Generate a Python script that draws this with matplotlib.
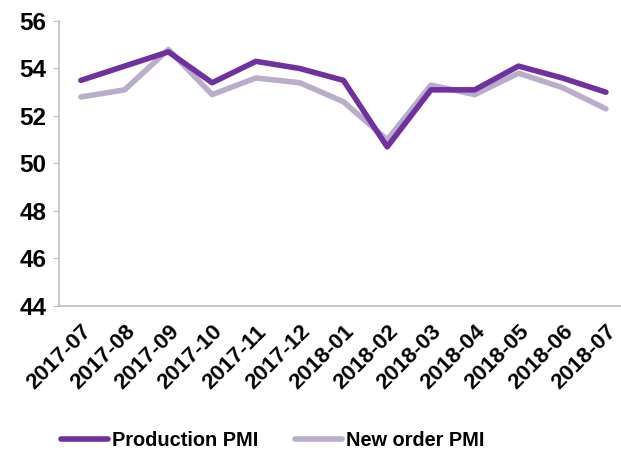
import matplotlib.pyplot as plt

plt.rcParams["font.family"] = ["Liberation Sans", "DejaVu Sans"]
plt.rcParams["font.weight"] = "bold"

months = ["2017-07", "2017-08", "2017-09", "2017-10", "2017-11", "2017-12",
          "2018-01", "2018-02", "2018-03", "2018-04", "2018-05", "2018-06",
          "2018-07"]
production = [53.5, 54.1, 54.7, 53.4, 54.3, 54.0, 53.5, 50.7, 53.1, 53.1,
              54.1, 53.6, 53.0]
new_order = [52.8, 53.1, 54.8, 52.9, 53.6, 53.4, 52.6, 51.0, 53.3, 52.9,
             53.8, 53.2, 52.3]

fig = plt.figure(figsize=(6.21, 4.51), dpi=100)
ax = fig.add_axes([0.095, 0.3215, 0.916, 0.632])

x = range(len(months))
ax.plot(x, production, color="#7030A0", lw=4, solid_capstyle="round",
        label="Production PMI", zorder=3)
ax.plot(x, new_order, color="#B9ADCB", lw=4, solid_capstyle="round",
        label="New order PMI", zorder=2)

ax.set_xlim(-0.5, len(months) - 0.5)
ax.set_ylim(44, 56)
ax.set_yticks(range(44, 57, 2))
ax.set_xticks(list(x))
ax.set_xticklabels(months, rotation=45, ha="right", rotation_mode="anchor",
                   fontsize=16, fontweight="bold")
ax.tick_params(axis="y", labelsize=17.5, length=4, color="#BFBFBF", pad=5)
ax.tick_params(axis="x", length=0, pad=11)

for side in ["top", "right"]:
    ax.spines[side].set_visible(False)
for side in ["left", "bottom"]:
    ax.spines[side].set_color("#BFBFBF")
    ax.spines[side].set_linewidth(1.2)

fig.legend(loc="center", bbox_to_anchor=(0.439, 0.024), ncol=2,
           frameon=False, fontsize=14.4, handlelength=2.35, columnspacing=1.85,
           handletextpad=0.2)

fig.savefig("out.png", dpi=100)
